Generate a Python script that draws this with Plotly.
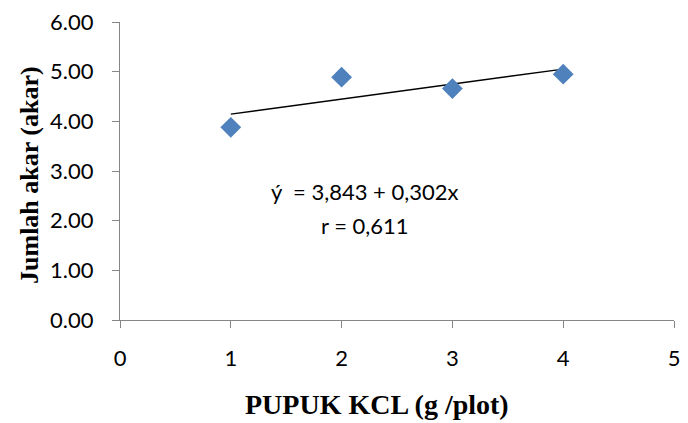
import plotly.graph_objects as go

x_vals = [1, 2, 3, 4]
y_vals = [3.88, 4.89, 4.66, 4.95]
intercept = 3.843
slope = 0.302
x_ticks = [0, 1, 2, 3, 4, 5]
y_ticks = [0, 1, 2, 3, 4, 5, 6]
y_tick_text = [f"{v:.2f}" for v in y_ticks]

trend_x = [min(x_vals), max(x_vals)]
trend_y = [intercept + slope * v for v in trend_x]

W, H = 688, 423
pl, pr, pt, pb = 120, 8, 22, 103
pw, ph = W - pl - pr, H - pt - pb
def px_to_paper(px, py):
    return (px - pl) / pw, (H - pb - py) / ph

fig = go.Figure()
fig.add_trace(go.Scatter(x=trend_x, y=trend_y, mode="lines",
                         line=dict(color="black", width=1.5), hoverinfo="skip"))
fig.add_trace(go.Scatter(x=x_vals, y=y_vals, mode="markers",
                         marker=dict(symbol="diamond", size=16, color="#4F81BD",
                                     line=dict(width=0))))

axis_common = dict(showgrid=False, zeroline=False, showline=True, linecolor="#868686",
                   linewidth=1, ticks="outside", tickcolor="#868686", ticklen=7,
                   tickfont=dict(family="Lato", size=22, color="black"))

def ann(text, px, py, font, angle=0):
    ax, ay = px_to_paper(px, py)
    return dict(text=text, x=ax, y=ay, xref="paper", yref="paper",
                xanchor="center", yanchor="middle", textangle=angle,
                showarrow=False, font=font)

body_font = dict(family="Lato", size=22, color="black")
annotations = [
    ann("ý  = 3,843 + 0,302x", 368, 191, body_font),
    ann("r = 0,611", 368, 225, body_font),
    ann("<b>PUPUK KCL (g /plot)</b>", 380, 404,
        dict(family="Liberation Serif", size=28, color="black")),
    ann("<b>Jumlah akar (akar)</b>", 28, 175,
        dict(family="Liberation Serif", size=26, color="black"), angle=-90),
]

fig.update_layout(
    width=W, height=H,
    margin=dict(l=pl, r=pr, t=pt, b=pb),
    plot_bgcolor="white", paper_bgcolor="white",
    showlegend=False,
    font=dict(family="Lato", color="black"),
    xaxis=dict(range=[0, 5], tickvals=x_ticks, ticklabelstandoff=12, **axis_common),
    yaxis=dict(range=[0, 6], tickvals=y_ticks, ticktext=y_tick_text,
               ticklabelstandoff=14, **axis_common),
    annotations=annotations,
)

fig.write_html("out.html")
